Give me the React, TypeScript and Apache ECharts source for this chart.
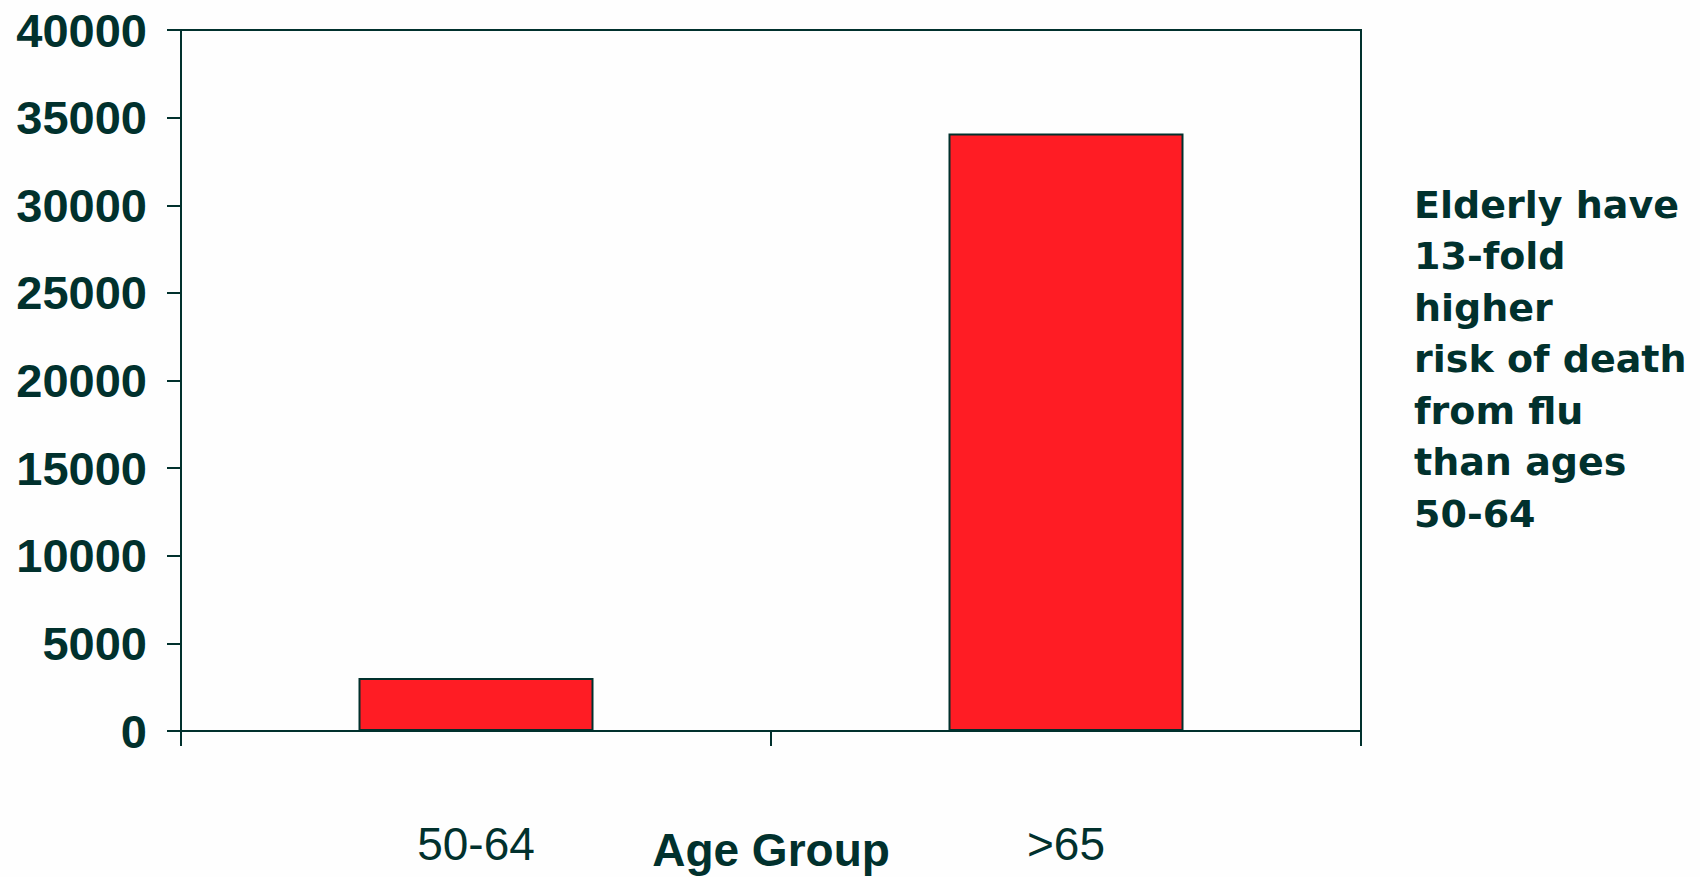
import React, { useEffect, useRef } from "react";
import * as echarts from "echarts";

const categories: string[] = ["50-64", ">65"];
const deaths: number[] = [3030, 34100];
const yTicks = { min: 0, max: 40000, interval: 5000 };
const noteLines: string[] = [
  "Elderly have",
  "13-fold",
  "higher",
  "risk of death",
  "from flu",
  "than ages",
  "50-64",
];

const INK = "#01312D";
const BAR = "#FF1C24";

export default function App() {
  const ref = useRef<HTMLDivElement>(null);

  useEffect(() => {
    if (!ref.current) return;
    const chart = echarts.init(ref.current, undefined, { renderer: "svg" });
    chart.setOption({
      animation: false,
      backgroundColor: "#FEFEFE",
      grid: {
        left: 181,
        right: 339,
        top: 30,
        bottom: 146,
        show: true,
        borderColor: INK,
        borderWidth: 2,
        containLabel: false,
        outerBoundsMode: "none",
      },
      xAxis: {
        type: "category",
        data: categories,
        boundaryGap: true,
        name: "Age Group",
        nameLocation: "middle",
        nameGap: 96,
        nameMoveOverlap: false,
        nameTextStyle: {
          fontFamily: "Liberation Sans, Arial, sans-serif",
          fontWeight: "bold",
          fontSize: 46,
          color: INK,
          verticalAlign: "top",
        },
        axisLine: { show: true, lineStyle: { color: INK, width: 2 } },
        axisTick: {
          show: true,
          length: 15,
          alignWithLabel: false,
          lineStyle: { color: INK, width: 2 },
        },
        axisLabel: {
          margin: 90,
          fontFamily: "Liberation Sans, Arial, sans-serif",
          fontSize: 46,
          color: INK,
        },
        splitLine: { show: false },
      },
      yAxis: {
        type: "value",
        min: yTicks.min,
        max: yTicks.max,
        interval: yTicks.interval,
        axisLine: { show: true, lineStyle: { color: INK, width: 2 } },
        axisTick: {
          show: true,
          inside: false,
          length: 14,
          lineStyle: { color: INK, width: 2 },
        },
        axisLabel: {
          margin: 34,
          formatter: (v: number) => String(v),
          fontFamily: "Liberation Sans, Arial, sans-serif",
          fontWeight: "bold",
          fontSize: 47,
          color: INK,
        },
        splitLine: { show: false },
      },
      series: [
        {
          type: "bar",
          data: deaths,
          barWidth: 235,
          itemStyle: {
            color: BAR,
            borderColor: INK,
            borderWidth: 2,
          },
        },
      ],
      graphic: [
        {
          type: "text",
          left: 1414,
          top: 179,
          style: {
            text: noteLines.join("\n"),
            fontFamily: "DejaVu Sans, Verdana, sans-serif",
            fontWeight: "bold",
            fontSize: 38,
            lineHeight: 51.5,
            fill: INK,
          },
        },
      ],
    });
    return () => chart.dispose();
  }, []);

  return (
    <div
      ref={ref}
      style={{ position: "fixed", left: 0, top: 0, width: 1700, height: 877 }}
    />
  );
}
